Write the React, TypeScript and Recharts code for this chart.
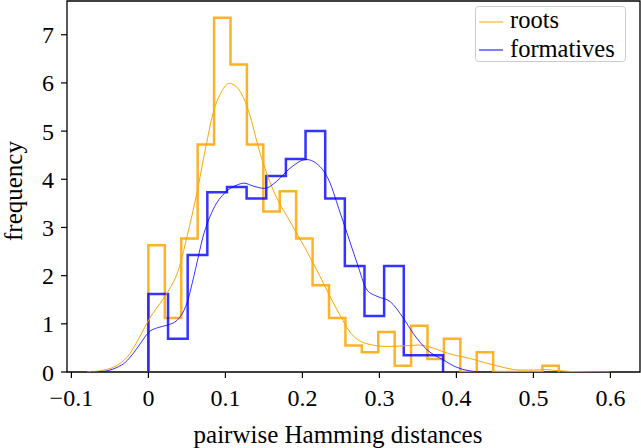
import React from 'react'
import {
  ComposedChart,
  Line,
  XAxis,
  YAxis,
  Legend,
  ReferenceArea,
  Label,
} from 'recharts'

// histogram bins (density)
const ROOTS_BIN_START = 0
const ROOTS_BIN_WIDTH = 0.02132
const ROOTS_HIST = [
  2.63, 1.12, 2.77, 4.72, 7.35, 6.38, 4.72, 3.33, 3.75, 2.77, 1.8, 1.12, 0.55,
  0.41, 0.83, 0.13, 0.96, 0.27, 0.69, 0, 0.41, 0, 0, 0, 0.13,
]

const FORM_BIN_START = 0
const FORM_BIN_WIDTH = 0.02551
const FORM_HIST = [
  1.62, 0.69, 2.43, 3.73, 3.84, 3.6, 4.07, 4.42, 5.0, 3.6, 2.2, 1.16, 2.2, 0.35,
  0.35,
]

// kde curves
const ROOTS_KDE_X = [
  -0.08, -0.065, -0.055, -0.045, -0.035, -0.025, -0.015, -0.005, 0.005, 0.015,
  0.025, 0.039, 0.05, 0.063, 0.073, 0.084, 0.095, 0.105, 0.118, 0.13, 0.145,
  0.162, 0.184, 0.205, 0.223, 0.245, 0.266, 0.288, 0.31, 0.33, 0.35, 0.365,
  0.383, 0.4, 0.418, 0.435, 0.45, 0.465, 0.483, 0.5, 0.515, 0.53, 0.55, 0.575,
  0.6,
]
const ROOTS_KDE_Y = [
  0, 0.02, 0.05, 0.1, 0.2, 0.36, 0.62, 0.92, 1.2, 1.42, 1.66, 2.12, 2.8, 3.72,
  4.54, 5.37, 5.82, 5.99, 5.85, 5.42, 4.54, 3.78, 3.12, 2.53, 1.98, 1.29, 0.75,
  0.57, 0.53, 0.54, 0.56, 0.52, 0.42, 0.34, 0.28, 0.2, 0.14, 0.08, 0.04, 0.04,
  0.05, 0.03, 0.01, 0.003, 0,
]

const FORM_KDE_X = [
  -0.075, -0.06, -0.05, -0.04, -0.03, -0.02, -0.01, 0, 0.012, 0.024, 0.037,
  0.05, 0.061, 0.071, 0.084, 0.1, 0.115, 0.124, 0.136, 0.151, 0.166, 0.184,
  0.205, 0.223, 0.236, 0.247, 0.258, 0.271, 0.284, 0.297, 0.314, 0.331, 0.344,
  0.362, 0.383, 0.4, 0.415, 0.43,
]
const FORM_KDE_Y = [
  0, 0.01, 0.04, 0.1, 0.2, 0.38, 0.6, 0.82, 0.92, 0.97, 1.07, 1.43, 2.12, 2.81,
  3.37, 3.73, 3.88, 3.92, 3.86, 3.81, 3.95, 4.23, 4.41, 4.26, 3.92, 3.4, 2.88,
  2.26, 1.7, 1.57, 1.46, 1.12, 0.8, 0.46, 0.25, 0.1, 0.03, 0,
]

const X_TICKS = [-0.1, 0, 0.1, 0.2, 0.3, 0.4, 0.5, 0.6]
const Y_TICKS = [0, 1, 2, 3, 4, 5, 6, 7]
const LEGEND_ORDER = ['roots', 'formatives']

const ORANGE = '#ffa500'
const BLUE = '#0000ff'
const FONT = '"Liberation Serif", "DejaVu Serif", serif'

const X_DOMAIN: [number, number] = [-0.1057, 0.6384]
const Y_DOMAIN: [number, number] = [0, 7.7]

// outline of a step histogram: up at the first edge, down at the last
function stepOutline(start: number, width: number, values: number[]) {
  const pts = [{ x: start, y: 0 }]
  values.forEach((v, i) => pts.push({ x: start + i * width, y: v }))
  pts.push({ x: start + values.length * width, y: 0 })
  return pts
}

function zip(xs: number[], ys: number[]) {
  return xs.map((x, i) => ({ x, y: ys[i] }))
}

const rootsHist = stepOutline(ROOTS_BIN_START, ROOTS_BIN_WIDTH, ROOTS_HIST)
const formHist = stepOutline(FORM_BIN_START, FORM_BIN_WIDTH, FORM_HIST)
const rootsKde = zip(ROOTS_KDE_X, ROOTS_KDE_Y)
const formKde = zip(FORM_KDE_X, FORM_KDE_Y)

function fmtTick(v: number) {
  if (v === 0) return '0'
  return v.toFixed(1).replace('-', '\u2212')
}

function LegendBox({ payload }: any) {
  const items = (payload || [])
    .filter((p: any) => p.type !== 'none')
    .sort(
      (a: any, b: any) =>
        LEGEND_ORDER.indexOf(a.value) - LEGEND_ORDER.indexOf(b.value),
    )
  return (
    <svg width={152} height={57} style={{ display: 'block' }}>
      <rect
        x={0.5}
        y={0.5}
        width={150}
        height={55}
        rx={3}
        fill="#fff"
        stroke="#cccccc"
        strokeWidth={1}
      />
      {items.map((p: any, i: number) => (
        <g key={p.value}>
          <line
            x1={4}
            x2={28}
            y1={16 + i * 28}
            y2={16 + i * 28}
            stroke={p.color}
            strokeWidth={1}
          />
          <text
            x={35}
            y={21.5 + i * 29.5}
            fontFamily={FONT}
            fontSize={24.5}
            fill="#000"
          >
            {p.value}
          </text>
        </g>
      ))}
    </svg>
  )
}

export default function App() {
  const tickStyle = { fill: '#000', fontSize: 24, fontFamily: FONT }
  return (
    <div style={{ position: 'absolute', left: 0, top: 0, background: '#fff' }}>
      <ComposedChart
        width={641}
        height={448}
        margin={{ top: 1, right: 1, bottom: 0, left: 0 }}
      >
        <XAxis
          type="number"
          dataKey="x"
          domain={X_DOMAIN}
          ticks={X_TICKS}
          tickFormatter={fmtTick}
          allowDataOverflow
          height={76}
          axisLine={false}
          tickSize={6}
          tickMargin={11}
          tickLine={{ stroke: '#000', strokeWidth: 1.2 }}
          tick={tickStyle}
          interval={0}
        >
          <Label
            content={() => (
              <text
                x={338}
                y={443}
                textAnchor="middle"
                fontFamily={FONT}
                fontSize={25}
                fill="#000"
              >
                pairwise Hamming distances
              </text>
            )}
          />
        </XAxis>
        <YAxis
          type="number"
          domain={Y_DOMAIN}
          ticks={Y_TICKS}
          allowDataOverflow
          width={67}
          axisLine={false}
          tickSize={6}
          tickMargin={7}
          tickLine={{ stroke: '#000', strokeWidth: 1.2 }}
          tick={tickStyle}
          interval={0}
        >
          <Label
            content={() => (
              <text
                x={22}
                y={191}
                transform="rotate(-90 22 191)"
                textAnchor="middle"
                fontFamily={FONT}
                fontSize={25}
                fill="#000"
              >
                frequency
              </text>
            )}
          />
        </YAxis>
        <ReferenceArea
          x1={X_DOMAIN[0]}
          x2={X_DOMAIN[1]}
          y1={Y_DOMAIN[0]}
          y2={Y_DOMAIN[1]}
          fill="none"
          stroke="#000"
          strokeWidth={1.3}
          ifOverflow="visible"
        />
        <Line
          data={rootsHist}
          dataKey="y"
          type="stepAfter"
          stroke={ORANGE}
          strokeWidth={2.5}
          strokeOpacity={0.85}
          dot={false}
          activeDot={false}
          legendType="none"
          isAnimationActive={false}
        />
        <Line
          data={formHist}
          dataKey="y"
          type="stepAfter"
          stroke={BLUE}
          strokeWidth={2.5}
          strokeOpacity={0.8}
          dot={false}
          activeDot={false}
          legendType="none"
          isAnimationActive={false}
        />
        <Line
          data={rootsKde}
          dataKey="y"
          name="roots"
          type="monotone"
          stroke={ORANGE}
          strokeWidth={1}
          dot={false}
          activeDot={false}
          legendType="line"
          isAnimationActive={false}
        />
        <Line
          data={formKde}
          dataKey="y"
          name="formatives"
          type="monotone"
          stroke={BLUE}
          strokeWidth={1}
          strokeOpacity={0.8}
          dot={false}
          activeDot={false}
          legendType="line"
          isAnimationActive={false}
        />
        <Legend
          layout="vertical"
          align="center"
          verticalAlign="middle"
          content={<LegendBox />}
          wrapperStyle={{ position: 'absolute', left: 475, top: 6, width: 152 }}
        />
      </ComposedChart>
    </div>
  )
}
